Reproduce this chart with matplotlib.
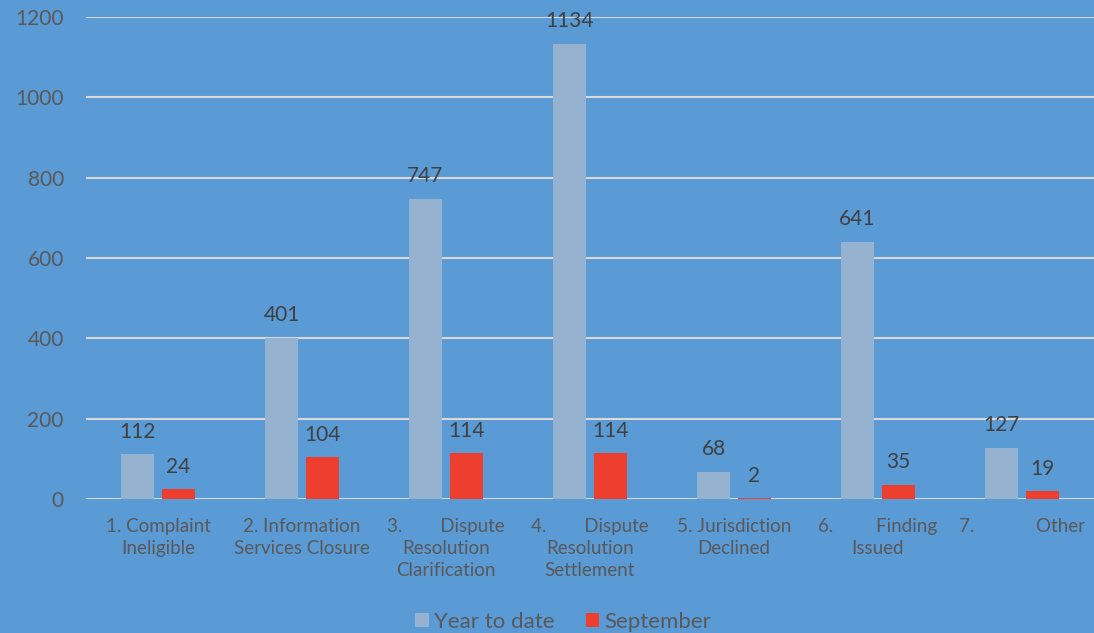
import matplotlib.pyplot as plt
import numpy as np

# categories and counts
categories = ['1. Complaint\nIneligible',
              '2. Information\nServices Closure',
              '3.        Dispute\nResolution\nClarification',
              '4.        Dispute\nResolution\nSettlement',
              '5. Jurisdiction\nDeclined',
              '6.         Finding\nIssued',
              '7.             Other']
year_to_date = [112, 401, 747, 1134, 68, 641, 127]
september = [24, 104, 114, 114, 2, 35, 19]
yticks = [0, 200, 400, 600, 800, 1000, 1200]

bg = '#5A9AD5'
c_ytd = '#95B3D0'
c_sep = '#EE3F2E'
txt = '#404040'
tick_c = '#595959'

plt.rcParams['font.family'] = ['Lato', 'DejaVu Sans']

fig = plt.figure(figsize=(10.94, 6.33), dpi=100)
fig.patch.set_facecolor(bg)
ax = fig.add_axes([0.0786, 0.2117, 0.9214, 0.7614])
ax.set_facecolor(bg)

x = np.arange(len(categories))
w = 0.229
off = 0.142
b1 = ax.bar(x - off, year_to_date, w, color=c_ytd, label='Year to date', zorder=3)
b2 = ax.bar(x + off, september, w, color=c_sep, label='September', zorder=3)

for bars, vals in ((b1, year_to_date), (b2, september)):
    for r, v in zip(bars, vals):
        ax.annotate(str(v), (r.get_x() + r.get_width() / 2, v),
                    xytext=(0, 9), textcoords='offset points',
                    ha='center', va='bottom', fontsize=15, color=txt,
                    annotation_clip=False, zorder=4)

ax.set_xlim(-0.5, 6.5)
ax.set_ylim(0, 1200)
ax.set_yticks(yticks)
ax.yaxis.grid(True, color='#D9D9D9', linewidth=1.5, zorder=0)
ax.set_axisbelow(True)
for s in ax.spines.values():
    s.set_visible(False)
ax.tick_params(axis='y', length=0, pad=16, labelsize=15, labelcolor=tick_c)
ax.tick_params(axis='x', length=0, pad=14)
ax.set_xticks(x)
ax.set_xticklabels(categories, fontsize=13.5, color=tick_c, linespacing=1.35,
                   va='top', ha='center')

fig.legend(loc='lower center', bbox_to_anchor=(0.515, -0.03), ncol=2,
           frameon=False, fontsize=16, labelcolor=tick_c,
           handlelength=0.6, handleheight=0.6, handletextpad=0.25,
           columnspacing=1.4)

fig.savefig('out.png', dpi=100, facecolor=bg)
